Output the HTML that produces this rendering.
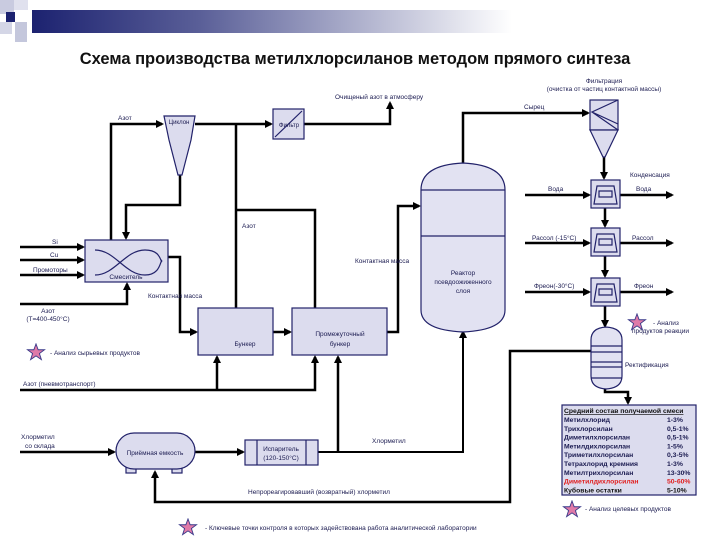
<!DOCTYPE html>
<html><head><meta charset="utf-8"><style>
html,body{margin:0;padding:0;background:#fff;}
svg{display:block;}
text{font-family:"Liberation Sans",sans-serif;fill:#1a1a50;}
</style></head><body>
<svg width="720" height="540" viewBox="0 0 720 540" xmlns="http://www.w3.org/2000/svg">
<defs>
<linearGradient id="g" x1="0" x2="1"><stop offset="0" stop-color="#1c2270"/><stop offset="0.35" stop-color="#5a5f98"/><stop offset="1" stop-color="#ffffff"/></linearGradient>
<marker id="a" markerWidth="8" markerHeight="8" refX="6" refY="4" orient="auto" markerUnits="userSpaceOnUse"><path d="M0,0 L8,4 L0,8 z" fill="#000"/></marker>
<symbol id="star" viewBox="0 0 20 20"><path d="M10,1 L12.4,7.5 L19.5,7.5 L13.8,11.7 L16,18.5 L10,14.3 L4,18.5 L6.2,11.7 L0.5,7.5 L7.6,7.5 z" fill="#e07aa8" stroke="#3a3a8a" stroke-width="1"/></symbol>
</defs>
<rect x="0" y="0" width="14" height="14" fill="#c9cbe0"/>
<rect x="14" y="0" width="14" height="10" fill="#e0e1ee"/>
<rect x="0" y="22" width="12" height="12" fill="#d4d6e6"/>
<rect x="15" y="22" width="12" height="20" fill="#c4c7dc"/>
<rect x="6" y="12" width="9" height="10" fill="#1c2270"/>
<rect x="32" y="10" width="480" height="23" fill="url(#g)"/>
<text x="355" y="64" text-anchor="middle" font-size="16.5" font-weight="bold" style="fill:#111">Схема производства метилхлорсиланов методом прямого синтеза</text>

<g fill="none" stroke="#000" stroke-width="2.5">
<polyline points="111,240 111,124 162,124" marker-end="url(#a)"/>
<polyline points="195,124 271,124" marker-end="url(#a)"/>
<polyline points="304,124 390,124 390,103" marker-end="url(#a)"/>
<polyline points="236,124 236,308"/>
<polyline points="236,210 315,210 315,308"/>
<polyline points="180,175 180,205 126,205 126,238" marker-end="url(#a)"/>
<line x1="20" y1="247" x2="83" y2="247" marker-end="url(#a)"/>
<line x1="20" y1="260" x2="83" y2="260" marker-end="url(#a)"/>
<line x1="20" y1="275" x2="83" y2="275" marker-end="url(#a)"/>
<polyline points="20,304 127,304 127,284" marker-end="url(#a)"/>
<polyline points="168,257 180,257 180,332 196,332" marker-end="url(#a)"/>
<line x1="273" y1="332" x2="290" y2="332" marker-end="url(#a)"/>
<polyline points="387,332 398,332 398,206 419,206" marker-end="url(#a)"/>
<polyline points="20,390 315,390 315,357" marker-end="url(#a)"/>
<line x1="217" y1="390" x2="217" y2="357" marker-end="url(#a)"/>
<polyline points="463,165 463,113 588,113" marker-end="url(#a)"/>
<line x1="604" y1="157" x2="604" y2="178" marker-end="url(#a)"/>
<line x1="605" y1="208" x2="605" y2="226" marker-end="url(#a)"/>
<line x1="605" y1="256" x2="605" y2="276" marker-end="url(#a)"/>
<line x1="605" y1="306" x2="605" y2="326" marker-end="url(#a)"/>
<line x1="525" y1="195" x2="589" y2="195" marker-end="url(#a)"/>
<line x1="620" y1="195" x2="672" y2="195" marker-end="url(#a)"/>
<line x1="525" y1="243" x2="589" y2="243" marker-end="url(#a)"/>
<line x1="620" y1="243" x2="672" y2="243" marker-end="url(#a)"/>
<line x1="525" y1="292" x2="589" y2="292" marker-end="url(#a)"/>
<line x1="620" y1="292" x2="672" y2="292" marker-end="url(#a)"/>
<polyline points="605,388 605,392 628,392 628,403" marker-end="url(#a)"/>
<polyline points="591,351 510,351 510,502 155,502 155,472" marker-end="url(#a)"/>
<line x1="20" y1="452" x2="114" y2="452" marker-end="url(#a)"/>
<line x1="195" y1="452" x2="243" y2="452" marker-end="url(#a)"/>
<polyline points="318,452 463,452 463,332" marker-end="url(#a)" stroke-width="2"/>
<line x1="338" y1="452" x2="338" y2="357" marker-end="url(#a)"/>
</g>

<g stroke="#22226a" stroke-width="1.2" fill="#dcdcee">
<path d="M164,116 L195,116 L191,140 L182,175 L178,175 L169,140 z"/>
<rect x="273" y="109" width="31" height="30"/>
<rect x="85" y="240" width="83" height="42"/>
<rect x="198" y="308" width="75" height="47"/>
<rect x="292" y="308" width="95" height="47"/>
<path d="M421,190 Q421,165 463,163 Q505,165 505,190 L505,310 Q505,330 463,332 Q421,330 421,310 z" fill="#e2e2f2"/>
<rect x="590" y="100" width="28" height="30"/>
<path d="M590,130 L618,130 L605,157 L603,157 z"/>
<rect x="591" y="180" width="29" height="28"/>
<rect x="591" y="228" width="29" height="28"/>
<rect x="591" y="278" width="29" height="28"/>
<path d="M591,340 Q591,328 606,327 Q622,328 622,340 L622,376 Q622,388 606,389 Q591,388 591,376 z" fill="#e2e2f2"/>
<rect x="126" y="465" width="10" height="8"/>
<rect x="172" y="465" width="10" height="8"/>
<rect x="116" y="433" width="79" height="36" rx="18"/>
<rect x="245" y="440" width="73" height="25"/>
<rect x="562" y="405" width="134" height="90"/>
</g>
<g stroke="#22226a" stroke-width="1.2" fill="none">
<line x1="275" y1="137" x2="302" y2="111"/>
<path d="M95,250 C115,250 125,275 145,275 C160,275 160,262 162,260 M95,275 C115,275 125,250 145,250 C160,250 160,260 162,262"/>
<line x1="421" y1="190" x2="505" y2="190"/>
<line x1="421" y1="236" x2="505" y2="236"/>
<path d="M618,100 L592,112 L618,124 M592,112 L618,130"/>
<path d="M597,186 L614,186 L617,204 L594,204 z M599,191 L612,191 L612,197 L599,197 z"/>
<path d="M597,234 L614,234 L617,252 L594,252 z M599,239 L612,239 L612,245 L599,245 z"/>
<path d="M597,284 L614,284 L617,302 L594,302 z M599,289 L612,289 L612,295 L599,295 z"/>
<path d="M591,346 H622 M591,352 H622 M591,362 H622 M591,367 H622 M591,378 H622"/>
<line x1="257" y1="440" x2="257" y2="465"/>
<line x1="306" y1="440" x2="306" y2="465"/>
</g>

<g font-size="6.5">
<text x="118" y="120">Азот</text>
<text x="179" y="124" text-anchor="middle" font-size="6">Циклон</text>
<text x="289" y="127" text-anchor="middle" font-size="6">Фильтр</text>
<text x="335" y="99">Очищеный азот в атмосферу</text>
<text x="242" y="228">Азот</text>
<text x="52" y="244">Si</text>
<text x="50" y="257">Cu</text>
<text x="33" y="272">Промоторы</text>
<text x="126" y="279" text-anchor="middle">Смеситель</text>
<text x="148" y="298">Контактная масса</text>
<text x="48" y="313" text-anchor="middle">Азот</text>
<text x="48" y="321" text-anchor="middle">(T=400-450°C)</text>
<text x="245" y="346" text-anchor="middle">Бункер</text>
<text x="340" y="336" text-anchor="middle">Промежуточный</text>
<text x="340" y="346" text-anchor="middle">бункер</text>
<text x="355" y="263">Контактная масса</text>
<text x="23" y="386">Азот (пневмотранспорт)</text>
<text x="50" y="355">- Анализ сырьевых продуктов</text>
<text x="463" y="275" text-anchor="middle">Реактор</text>
<text x="463" y="284" text-anchor="middle">псевдоожиженного</text>
<text x="463" y="293" text-anchor="middle">слоя</text>
<text x="524" y="109">Сырец</text>
<text x="604" y="83" text-anchor="middle">Фильтрация</text>
<text x="604" y="91" text-anchor="middle">(очистка от частиц контактной массы)</text>
<text x="630" y="177">Конденсация</text>
<text x="548" y="191">Вода</text>
<text x="636" y="191">Вода</text>
<text x="532" y="240">Рассол (-15°C)</text>
<text x="632" y="240">Рассол</text>
<text x="534" y="288">Фреон(-30°C)</text>
<text x="634" y="288">Фреон</text>
<text x="653" y="325">- Анализ</text>
<text x="632" y="333">продуктов реакции</text>
<text x="625" y="367">Ректификация</text>
<text x="21" y="439">Хлорметил</text>
<text x="25" y="448">со склада</text>
<text x="155" y="455" text-anchor="middle">Приёмная емкость</text>
<text x="281" y="451" text-anchor="middle">Испаритель</text>
<text x="281" y="460" text-anchor="middle">(120-150°C)</text>
<text x="372" y="443">Хлорметил</text>
<text x="248" y="494">Непрореагировавший (возвратный) хлорметил</text>
<text x="205" y="530">- Ключевые точки контроля в которых задействована работа аналитической лаборатории</text>
<text x="585" y="511">- Анализ целевых продуктов</text>
</g>
<g font-size="6.8" font-weight="bold">
<text x="564" y="413" text-decoration="underline" style="fill:#111">Средний состав получаемой смеси</text>
<g style="fill:#111">
<text x="564" y="422">Метилхлорид</text><text x="667" y="422">1-3%</text>
<text x="564" y="430.8">Трихлорсилан</text><text x="667" y="430.8">0,5-1%</text>
<text x="564" y="439.6">Диметилхлорсилан</text><text x="667" y="439.6">0,5-1%</text>
<text x="564" y="448.4">Метилдихлорсилан</text><text x="667" y="448.4">1-5%</text>
<text x="564" y="457.2">Триметилхлорсилан</text><text x="667" y="457.2">0,3-5%</text>
<text x="564" y="466">Тетрахлорид кремния</text><text x="667" y="466">1-3%</text>
<text x="564" y="474.8">Метилтрихлорсилан</text><text x="667" y="474.8">13-30%</text>
</g>
<text x="564" y="483.6" style="fill:#e02020">Диметилдихлорсилан</text><text x="667" y="483.6" style="fill:#e02020">50-60%</text>
<text x="564" y="492.4" style="fill:#111">Кубовые остатки</text><text x="667" y="492.4" style="fill:#111">5-10%</text>
</g>
<use href="#star" x="26" y="343" width="20" height="18"/>
<use href="#star" x="627" y="313" width="20" height="18"/>
<use href="#star" x="562" y="500" width="20" height="18"/>
<use href="#star" x="178" y="518" width="20" height="18"/>
</svg>
</body></html>
